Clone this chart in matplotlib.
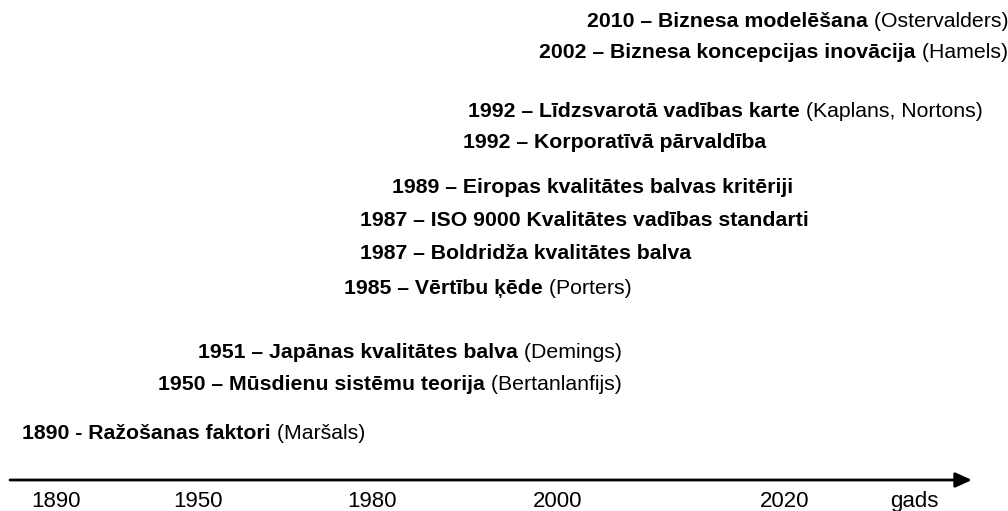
import matplotlib.pyplot as plt

plt.rcParams['font.family'] = ['Liberation Sans', 'DejaVu Sans']

# notikumi laika skalā
years = ['2010', '2002', '1992', '1992', '1989', '1987', '1987', '1985', '1951', '1950', '1890']
dashes = ['–', '–', '–', '–', '–', '–', '–', '–', '–', '–', '-']
titles = ['Biznesa modelēšana', 'Biznesa koncepcijas inovācija',
          'Līdzsvarotā vadības karte', 'Korporatīvā pārvaldība',
          'Eiropas kvalitātes balvas kritēriji', 'ISO 9000 Kvalitātes vadības standarti',
          'Boldridža kvalitātes balva', 'Vērtību ķēde',
          'Japānas kvalitātes balva', 'Mūsdienu sistēmu teorija', 'Ražošanas faktori']
authors = ['Ostervalders', 'Hamels', 'Kaplans, Nortons', '', '', '', '', 'Porters',
           'Demings', 'Bertanlanfijs', 'Maršals']

axis_labels = ['1890', '1950', '1980', '2000', '2020', 'gads']

# izkārtojums (pikseļos)
label_x = [587, 539, 468, 463, 392, 360, 360, 344, 198, 158, 22]
label_y = [27, 58, 117, 148, 193, 226, 259, 294, 358, 390, 439]
tick_x = [56, 198, 372, 558, 785, 914]

fig = plt.figure(figsize=(10.08, 5.11), dpi=100)
ax = fig.add_axes([0, 0, 1, 1])
ax.set_xlim(0, 1008)
ax.set_ylim(511, 0)
ax.axis('off')

for i in range(len(years)):
    head = ax.text(label_x[i], label_y[i], years[i] + ' ' + dashes[i] + ' ' + titles[i],
                   fontsize=15.3, fontweight='bold', va='baseline', ha='left')
    if authors[i]:
        ax.annotate(' (' + authors[i] + ')', xy=(1, 0), xycoords=head,
                    fontsize=15.3, va='bottom', ha='left')

# laika ass ar bultu
ax.annotate('', xy=(972, 480), xytext=(10, 480),
            arrowprops=dict(arrowstyle='-|>,head_length=1.0,head_width=0.45',
                            lw=2, color='black', shrinkA=0, shrinkB=0))

for x, lab in zip(tick_x, axis_labels):
    ax.text(x, 507, lab, fontsize=16, ha='center', va='baseline')

fig.savefig('out.png', dpi=100)
